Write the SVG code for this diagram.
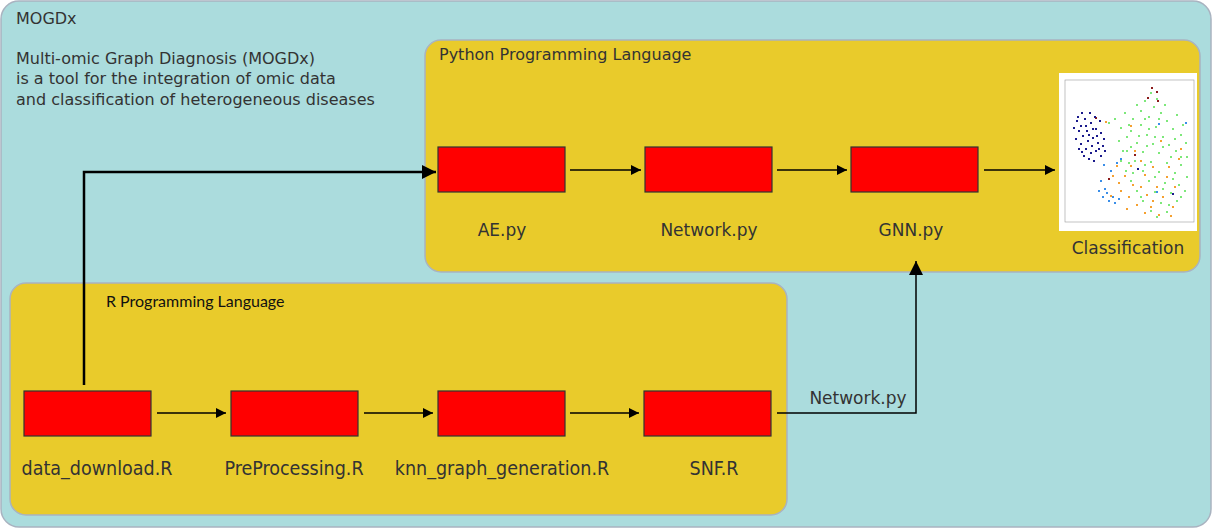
<svg xmlns="http://www.w3.org/2000/svg" width="1212" height="528" viewBox="0 0 1212 528">
<style>
.t{font-family:"DejaVu Sans",Verdana,sans-serif;fill:#333;}
.tc{font-family:"DejaVu Sans Condensed","DejaVu Sans",sans-serif;font-stretch:condensed;fill:#333;font-size:19.5px;}
.box{fill:#ff0000;stroke:#333;stroke-width:1.2;}
.lang{fill:#e9cb2b;stroke:#a9b3c0;stroke-width:1.5;}
.c{stroke:#000;stroke-width:1.5;fill:none;}
.ct{stroke:#000;stroke-width:2.5;fill:none;}
.nv{fill:#1a1a8c;}.gr{fill:#7de87a;}.or{fill:#f5a030;}.lb{fill:#3a8ee8;}.dr{fill:#8b1a1a;}
</style>
<defs>
<marker id="ah" viewBox="0 0 10 10" refX="10" refY="5" markerWidth="14" markerHeight="10" markerUnits="userSpaceOnUse" orient="auto">
<path d="M0,0 L10,5 L0,10 Z" fill="#000"/>
</marker>
<marker id="ahb" viewBox="0 0 10 10" refX="10" refY="5" markerWidth="18" markerHeight="14" markerUnits="userSpaceOnUse" orient="auto">
<path d="M0,0 L10,5 L0,10 Z" fill="#000"/>
</marker>
</defs>
<g id="mogdx">
<rect x="1" y="1" width="1210" height="526" rx="18" fill="#abdcdd" stroke="#a9b3c0" stroke-width="1.5"/>
<text class="t" x="16" y="24" font-size="16">MOGDx</text>
<text class="t" x="16" y="64" font-size="16">Multi-omic Graph Diagnosis (MOGDx)</text>
<text class="t" x="16" y="84" font-size="16">is a tool for the integration of omic data</text>
<text class="t" x="16" y="105" font-size="16">and classification of heterogeneous diseases</text>
</g>
<g id="python">
<rect class="lang" x="425" y="40" width="775" height="232" rx="16"/>
<text class="t" x="439" y="60" font-size="16">Python Programming Language</text>
</g>
<g id="rlang">
<rect class="lang" x="10" y="283" width="777" height="232" rx="16"/>
<text x="106" y="307" font-family="Lato,'Open Sans',sans-serif" font-size="16" fill="#111">R Programming Language</text>
</g>
<g id="ae"><rect class="box" x="438" y="147" width="127" height="45"/><text class="t" x="502" y="236" font-size="17" text-anchor="middle">AE.py</text></g>
<g id="network"><rect class="box" x="645" y="147" width="127" height="45"/><text class="t" x="709" y="236" font-size="17" text-anchor="middle">Network.py</text></g>
<g id="gnn"><rect class="box" x="851" y="147" width="127" height="45"/><text class="t" x="911" y="236" font-size="17" text-anchor="middle">GNN.py</text></g>
<g id="classification">
<rect x="1059" y="73" width="138" height="158" fill="#fff"/>
<rect x="1065" y="80" width="129" height="142" fill="none" stroke="#999" stroke-width="0.6"/>
<g>
<rect class="dr" x="1151" y="87" width="2" height="2"/><rect class="dr" x="1156" y="91" width="2" height="2"/><rect class="dr" x="1147" y="97" width="2" height="2"/><rect class="dr" x="1157" y="100" width="2" height="2"/><rect class="dr" x="1095" y="117" width="2" height="2"/><rect class="dr" x="1134" y="154" width="2" height="2"/><rect class="dr" x="1108" y="178" width="2" height="2"/>
<rect class="nv" x="1076" y="120" width="2" height="2"/><rect class="nv" x="1080" y="125" width="2" height="2"/><rect class="nv" x="1084" y="118" width="2" height="2"/><rect class="nv" x="1090" y="122" width="2" height="2"/><rect class="nv" x="1095" y="128" width="2" height="2"/><rect class="nv" x="1100" y="132" width="2" height="2"/><rect class="nv" x="1078" y="130" width="2" height="2"/><rect class="nv" x="1082" y="135" width="2" height="2"/><rect class="nv" x="1087" y="140" width="2" height="2"/><rect class="nv" x="1092" y="137" width="2" height="2"/><rect class="nv" x="1097" y="142" width="2" height="2"/><rect class="nv" x="1102" y="145" width="2" height="2"/><rect class="nv" x="1075" y="138" width="2" height="2"/><rect class="nv" x="1080" y="143" width="2" height="2"/><rect class="nv" x="1085" y="148" width="2" height="2"/><rect class="nv" x="1090" y="152" width="2" height="2"/><rect class="nv" x="1095" y="150" width="2" height="2"/><rect class="nv" x="1100" y="155" width="2" height="2"/><rect class="nv" x="1083" y="155" width="2" height="2"/><rect class="nv" x="1088" y="158" width="2" height="2"/><rect class="nv" x="1093" y="160" width="2" height="2"/><rect class="nv" x="1078" y="148" width="2" height="2"/><rect class="nv" x="1086" y="130" width="2" height="2"/><rect class="nv" x="1091" y="145" width="2" height="2"/><rect class="nv" x="1096" y="135" width="2" height="2"/><rect class="nv" x="1073" y="127" width="2" height="2"/><rect class="nv" x="1099" y="120" width="2" height="2"/><rect class="nv" x="1094" y="116" width="2" height="2"/><rect class="nv" x="1104" y="150" width="2" height="2"/><rect class="nv" x="1081" y="112" width="2" height="2"/><rect class="nv" x="1089" y="112" width="2" height="2"/><rect class="nv" x="1103" y="138" width="2" height="2"/><rect class="nv" x="1077" y="116" width="2" height="2"/><rect class="nv" x="1085" y="125" width="2" height="2"/><rect class="nv" x="1092" y="128" width="2" height="2"/><rect class="nv" x="1088" y="134" width="2" height="2"/><rect class="nv" x="1098" y="148" width="2" height="2"/><rect class="nv" x="1081" y="151" width="2" height="2"/><rect class="nv" x="1137" y="168" width="2" height="2"/><rect class="nv" x="1172" y="193" width="2" height="2"/>
<rect class="gr" x="1150" y="92" width="2" height="2"/><rect class="gr" x="1144" y="100" width="2" height="2"/><rect class="gr" x="1153" y="106" width="2" height="2"/><rect class="gr" x="1140" y="110" width="2" height="2"/><rect class="gr" x="1160" y="112" width="2" height="2"/><rect class="gr" x="1148" y="116" width="2" height="2"/><rect class="gr" x="1132" y="118" width="2" height="2"/><rect class="gr" x="1166" y="120" width="2" height="2"/><rect class="gr" x="1124" y="112" width="2" height="2"/><rect class="gr" x="1140" y="124" width="2" height="2"/><rect class="gr" x="1155" y="126" width="2" height="2"/><rect class="gr" x="1172" y="128" width="2" height="2"/><rect class="gr" x="1120" y="127" width="2" height="2"/><rect class="gr" x="1130" y="130" width="2" height="2"/><rect class="gr" x="1146" y="134" width="2" height="2"/><rect class="gr" x="1162" y="136" width="2" height="2"/><rect class="gr" x="1180" y="134" width="2" height="2"/><rect class="gr" x="1118" y="140" width="2" height="2"/><rect class="gr" x="1136" y="142" width="2" height="2"/><rect class="gr" x="1152" y="143" width="2" height="2"/><rect class="gr" x="1168" y="144" width="2" height="2"/><rect class="gr" x="1185" y="142" width="2" height="2"/><rect class="gr" x="1126" y="150" width="2" height="2"/><rect class="gr" x="1142" y="151" width="2" height="2"/><rect class="gr" x="1158" y="152" width="2" height="2"/><rect class="gr" x="1175" y="150" width="2" height="2"/><rect class="gr" x="1186" y="156" width="2" height="2"/><rect class="gr" x="1120" y="160" width="2" height="2"/><rect class="gr" x="1134" y="160" width="2" height="2"/><rect class="gr" x="1150" y="161" width="2" height="2"/><rect class="gr" x="1166" y="162" width="2" height="2"/><rect class="gr" x="1180" y="164" width="2" height="2"/><rect class="gr" x="1125" y="170" width="2" height="2"/><rect class="gr" x="1142" y="170" width="2" height="2"/><rect class="gr" x="1158" y="171" width="2" height="2"/><rect class="gr" x="1174" y="172" width="2" height="2"/><rect class="gr" x="1186" y="176" width="2" height="2"/><rect class="gr" x="1130" y="180" width="2" height="2"/><rect class="gr" x="1148" y="180" width="2" height="2"/><rect class="gr" x="1164" y="182" width="2" height="2"/><rect class="gr" x="1178" y="184" width="2" height="2"/><rect class="gr" x="1136" y="190" width="2" height="2"/><rect class="gr" x="1154" y="191" width="2" height="2"/><rect class="gr" x="1170" y="192" width="2" height="2"/><rect class="gr" x="1142" y="200" width="2" height="2"/><rect class="gr" x="1160" y="202" width="2" height="2"/><rect class="gr" x="1176" y="200" width="2" height="2"/><rect class="gr" x="1150" y="210" width="2" height="2"/><rect class="gr" x="1166" y="211" width="2" height="2"/><rect class="gr" x="1114" y="118" width="2" height="2"/><rect class="gr" x="1108" y="122" width="2" height="2"/><rect class="gr" x="1128" y="124" width="2" height="2"/><rect class="gr" x="1138" y="135" width="2" height="2"/><rect class="gr" x="1170" y="156" width="2" height="2"/><rect class="gr" x="1182" y="124" width="2" height="2"/><rect class="gr" x="1156" y="98" width="2" height="2"/><rect class="gr" x="1146" y="145" width="2" height="2"/><rect class="gr" x="1132" y="172" width="2" height="2"/><rect class="gr" x="1162" y="188" width="2" height="2"/><rect class="gr" x="1184" y="190" width="2" height="2"/><rect class="gr" x="1122" y="150" width="2" height="2"/><rect class="gr" x="1176" y="114" width="2" height="2"/><rect class="gr" x="1148" y="128" width="2" height="2"/>
<rect class="gr" x="1136" y="104" width="2" height="2"/><rect class="gr" x="1164" y="104" width="2" height="2"/><rect class="gr" x="1144" y="118" width="2" height="2"/><rect class="gr" x="1158" y="118" width="2" height="2"/><rect class="gr" x="1126" y="136" width="2" height="2"/><rect class="gr" x="1174" y="138" width="2" height="2"/><rect class="gr" x="1154" y="136" width="2" height="2"/><rect class="gr" x="1130" y="146" width="2" height="2"/><rect class="gr" x="1162" y="146" width="2" height="2"/><rect class="gr" x="1180" y="156" width="2" height="2"/><rect class="gr" x="1144" y="164" width="2" height="2"/><rect class="gr" x="1172" y="178" width="2" height="2"/><rect class="gr" x="1154" y="176" width="2" height="2"/><rect class="gr" x="1140" y="196" width="2" height="2"/><rect class="gr" x="1180" y="196" width="2" height="2"/><rect class="gr" x="1168" y="204" width="2" height="2"/><rect class="gr" x="1156" y="216" width="2" height="2"/><rect class="gr" x="1128" y="162" width="2" height="2"/>
<rect class="or" x="1105" y="121" width="2" height="2"/><rect class="or" x="1130" y="125" width="2" height="2"/><rect class="or" x="1116" y="165" width="2" height="2"/><rect class="or" x="1124" y="175" width="2" height="2"/><rect class="or" x="1132" y="184" width="2" height="2"/><rect class="or" x="1140" y="186" width="2" height="2"/><rect class="or" x="1120" y="190" width="2" height="2"/><rect class="or" x="1128" y="196" width="2" height="2"/><rect class="or" x="1146" y="194" width="2" height="2"/><rect class="or" x="1156" y="186" width="2" height="2"/><rect class="or" x="1166" y="176" width="2" height="2"/><rect class="or" x="1174" y="186" width="2" height="2"/><rect class="or" x="1136" y="204" width="2" height="2"/><rect class="or" x="1150" y="206" width="2" height="2"/><rect class="or" x="1162" y="196" width="2" height="2"/><rect class="or" x="1172" y="206" width="2" height="2"/><rect class="or" x="1126" y="208" width="2" height="2"/><rect class="or" x="1144" y="212" width="2" height="2"/><rect class="or" x="1158" y="214" width="2" height="2"/><rect class="or" x="1112" y="175" width="2" height="2"/><rect class="or" x="1118" y="182" width="2" height="2"/><rect class="or" x="1140" y="160" width="2" height="2"/><rect class="or" x="1152" y="166" width="2" height="2"/><rect class="or" x="1168" y="166" width="2" height="2"/><rect class="or" x="1178" y="158" width="2" height="2"/><rect class="or" x="1160" y="140" width="2" height="2"/><rect class="or" x="1180" y="148" width="2" height="2"/><rect class="or" x="1134" y="150" width="2" height="2"/><rect class="or" x="1144" y="174" width="2" height="2"/><rect class="or" x="1110" y="195" width="2" height="2"/><rect class="or" x="1152" y="200" width="2" height="2"/><rect class="or" x="1170" y="215" width="2" height="2"/><rect class="or" x="1130" y="165" width="2" height="2"/>
<rect class="lb" x="1103" y="164" width="2" height="2"/><rect class="lb" x="1110" y="170" width="2" height="2"/><rect class="lb" x="1100" y="180" width="2" height="2"/><rect class="lb" x="1098" y="190" width="2" height="2"/><rect class="lb" x="1104" y="188" width="2" height="2"/><rect class="lb" x="1102" y="196" width="2" height="2"/><rect class="lb" x="1108" y="200" width="2" height="2"/><rect class="lb" x="1112" y="196" width="2" height="2"/><rect class="lb" x="1114" y="202" width="2" height="2"/><rect class="lb" x="1118" y="198" width="2" height="2"/><rect class="lb" x="1116" y="162" width="2" height="2"/><rect class="lb" x="1120" y="158" width="2" height="2"/><rect class="lb" x="1106" y="192" width="2" height="2"/><rect class="lb" x="1158" y="123" width="2" height="2"/><rect class="lb" x="1185" y="122" width="2" height="2"/><rect class="lb" x="1156" y="191" width="2" height="2"/>
</g>
<text class="t" x="1128" y="254" font-size="17" text-anchor="middle">Classification</text>
</g>
<g id="data_download"><rect class="box" x="24" y="391" width="127" height="45"/><text class="tc" x="97" y="475" text-anchor="middle">data_download.R</text></g>
<g id="preprocessing"><rect class="box" x="231" y="391" width="127" height="45"/><text class="tc" x="294" y="475" text-anchor="middle">PreProcessing.R</text></g>
<g id="knn"><rect class="box" x="438" y="391" width="127" height="45"/><text class="tc" x="502" y="475" text-anchor="middle">knn_graph_generation.R</text></g>
<g id="snf"><rect class="box" x="644" y="391" width="127" height="45"/><text class="tc" x="714" y="475" text-anchor="middle">SNF.R</text></g>
<g id="connectors">
<line class="c" x1="570" y1="170" x2="641" y2="170" marker-end="url(#ah)"/>
<line class="c" x1="777" y1="170" x2="847" y2="170" marker-end="url(#ah)"/>
<line class="c" x1="984" y1="170" x2="1055" y2="170" marker-end="url(#ah)"/>
<line class="c" x1="157" y1="413" x2="226" y2="413" marker-end="url(#ah)"/>
<line class="c" x1="364" y1="413" x2="433" y2="413" marker-end="url(#ah)"/>
<line class="c" x1="570" y1="413" x2="639" y2="413" marker-end="url(#ah)"/>
<path class="ct" d="M84,385 V172 H436" marker-end="url(#ahb)"/>
<path class="c" d="M777,413 H916 V261" marker-end="url(#ahb)"/>
<text class="t" x="858" y="404" font-size="17" text-anchor="middle">Network.py</text>
</g>
</svg>
